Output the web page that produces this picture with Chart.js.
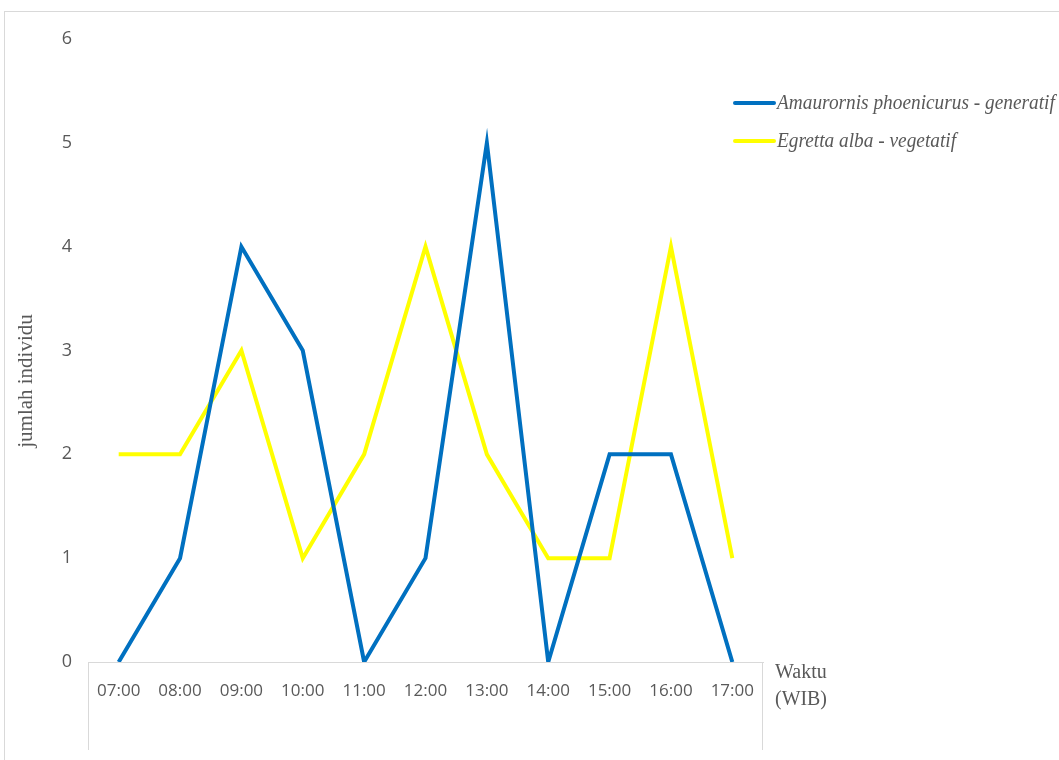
<!DOCTYPE html>
<html>
<head>
<meta charset="utf-8">
<script src="https://cdn.jsdelivr.net/npm/chart.js@4/dist/chart.umd.min.js"></script>
<style>
html,body{margin:0;padding:0;background:#fff;}
#wrap{position:absolute;left:0;top:0;width:1059px;height:760px;}
#frame{position:absolute;left:4px;top:11px;width:1060px;height:760px;border-left:1px solid #d9d9d9;border-top:1px solid #d9d9d9;}
canvas{position:absolute;left:0;top:0;}
</style>
</head>
<body>
<div id="wrap"><div id="frame"></div><canvas id="c" width="1059" height="760"></canvas></div>
<script>
const categories = ["07:00","08:00","09:00","10:00","11:00","12:00","13:00","14:00","15:00","16:00","17:00"];
const amaurornis = [0,1,4,3,0,1,5,0,2,2,0];
const egretta = [2,2,3,1,2,4,2,1,1,4,1];
const seriesNames = ["Amaurornis phoenicurus - generatif","Egretta alba - vegetatif"];
const seriesColors = ["#0070C0","#FFFF00"];
const yTitle = "jumlah individu";
const xTitleLines = ["Waktu","(WIB)"];

const extras = {
  id:'extras',
  afterDraw(chart){
    const ctx = chart.ctx, a = chart.chartArea;
    ctx.save();
    // box below axis
    ctx.strokeStyle = '#d9d9d9'; ctx.lineWidth = 1;
    ctx.beginPath();
    ctx.moveTo(a.left+0.5, a.bottom); ctx.lineTo(a.left+0.5, 750);
    ctx.moveTo(a.right-0.5, a.bottom); ctx.lineTo(a.right-0.5, 750);
    ctx.stroke();
    // x title
    ctx.fillStyle = '#595959';
    ctx.font = '20px "Liberation Serif"';
    ctx.textBaseline = 'middle'; ctx.textAlign = 'left';
    ctx.fillText(xTitleLines[0], a.right+12, a.bottom+11, 52);
    ctx.fillText(xTitleLines[1], a.right+12, a.bottom+38, 52);
    // y title
    ctx.save();
    ctx.translate(26, 381);
    ctx.rotate(-Math.PI/2);
    ctx.textAlign = 'center';
    ctx.font = '21px "Liberation Serif"';
    ctx.fillText(yTitle, 0, 0, 142);
    ctx.restore();
    // legend
    chart.data.datasets.forEach((ds,i)=>{
      const y = 103 + i*38;
      ctx.strokeStyle = ds.borderColor; ctx.lineWidth = 4; ctx.lineCap='round';
      ctx.beginPath(); ctx.moveTo(735,y); ctx.lineTo(774,y); ctx.stroke();
      ctx.fillStyle = '#595959';
      ctx.font = 'italic 21px "Liberation Serif"';
      ctx.textAlign = 'left';
      const w = ctx.measureText(ds.label).width;
      ctx.fillText(ds.label, 777, y, w*0.92);
    });
    ctx.restore();
  }
};

new Chart(document.getElementById('c'), {
  type:'line',
  data:{
    labels:categories,
    datasets:[
      {label:seriesNames[0], data:amaurornis, borderColor:seriesColors[0], backgroundColor:seriesColors[0], borderWidth:4, pointRadius:0, tension:0, fill:false},
      {label:seriesNames[1], data:egretta, borderColor:seriesColors[1], backgroundColor:seriesColors[1], borderWidth:4, pointRadius:0, tension:0, fill:false}
    ]
  },
  options:{
    responsive:false, animation:false,
    layout:{padding:{left:16,top:39,right:296,bottom:0}},
    plugins:{legend:{display:false}, tooltip:{enabled:false}},
    scales:{
      x:{
        offset:true,
        grid:{display:false, drawTicks:false},
        border:{display:true, color:'#d9d9d9', width:1},
        ticks:{color:'#595959', font:{family:'"Open Sans"', size:17}, padding:19, maxRotation:0, autoSkip:false},
        afterFit(s){ s.height = 98; }
      },
      y:{
        min:0, max:6,
        grid:{display:false, drawTicks:false},
        border:{display:false},
        ticks:{stepSize:1, color:'#595959', font:{family:'"Open Sans"', size:18}, padding:16},
        title:{display:false, text:yTitle},
        afterFit(s){ s.width = 72; }
      }
    }
  },
  plugins:[extras]
});
</script>
</body>
</html>
